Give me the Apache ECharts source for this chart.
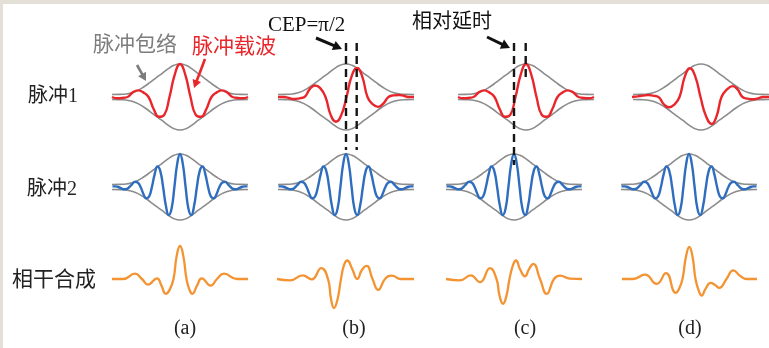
<!DOCTYPE html>
<html><head><meta charset="utf-8">
<script src="https://cdn.jsdelivr.net/npm/echarts/dist/echarts.min.js"></script>
<style>html,body{margin:0;padding:0;background:#fff}#c{width:769px;height:348px}</style>
</head><body><div id="c"></div>
<script>
// ---------- data ----------
const columnLabels = ['(a)', '(b)', '(c)', '(d)'];
const rowLabels = ['脉冲1', '脉冲2', '相干合成'];

// Gaussian-like envelope (time, amplitude)
const envT = [-68,-60,-54,-48,-42,-36,-30,-24,-18,-12,-6,0,6,12,18,24,30,36,42,48,54,60,68];
const envV = [0.075,0.08,0.09,0.13,0.2,0.31,0.44,0.58,0.71,0.85,0.96,1,0.96,0.85,0.71,0.58,0.44,0.31,0.2,0.13,0.09,0.08,0.075];
// envelope delay of pulse 1 in each column
const envDelay = [0, 0, 12, 12];

// pulse 1 (red carrier)
const redT_a = [-68,-63,-57.75,-52.5,-47.25,-42,-36.75,-31.5,-26.25,-21,-15.75,-10.5,-5.25,0,5.25,10.5,15.75,21,26.25,31.5,36.75,42,47.25,52.5,57.75,63,68];
const redV_a = [0,-0.04,-0.03,0,0.14,0.2,0.14,0,-0.37,-0.6,-0.54,0,0.68,1,0.68,0,-0.54,-0.6,-0.37,0,0.14,0.2,0.14,0,-0.03,-0.04,0];
const redT_b = [-68,-62.5,-57.25,-52,-46.75,-41.5,-36.25,-31,-25.75,-20.5,-15.25,-10,-4.75,0.5,5.75,11,16.25,21.5,26.75,32,37.25,42.5,47.75,53,58.25,63.5,68];
const redV_b = [0,0,-0.03,-0.06,-0.04,0,0.24,0.35,0.27,0,-0.55,-0.75,-0.55,0,0.64,0.88,0.62,0,-0.22,-0.3,-0.2,0,0.05,0.06,0.03,0,0];
const redT_c = [-56,-51,-45.75,-40.5,-35.25,-30,-24.75,-19.5,-14.25,-9,-3.75,1.5,6.75,12,17.25,22.5,27.75,33,38.25,43.5,48.75,54,59.25,64.5,69.75,75,80];
const redV_c = [0,-0.04,-0.03,0,0.14,0.2,0.14,0,-0.37,-0.6,-0.54,0,0.68,1,0.68,0,-0.54,-0.6,-0.37,0,0.14,0.2,0.14,0,-0.03,-0.04,0];
const redT_d = [-57,-51.5,-46.5,-41,-36,-30.5,-25.2,-20,-14.7,-9.5,-4.2,1,6.3,11.5,17,22.7,27.6,32.5,38,43.7,48.6,53.5,58.7,64,69,74,80];
const redV_d = [0,0.02,0.04,0.06,0.04,0,-0.22,-0.31,-0.23,0,0.62,0.87,0.62,0,-0.58,-0.82,-0.58,0,0.23,0.33,0.23,0,-0.05,-0.07,-0.04,0,0];

// pulse 2 (blue carrier), same in every column
const blueT = [-67.5,-64.7,-61.9,-59.1,-56.25,-53.4,-50.6,-47.8,-45,-42.2,-39.4,-36.6,-33.75,-30.9,-28.1,-25.3,-22.5,-19.7,-16.9,-14.1,-11.25,-8.4,-5.6,-2.8,0,2.8,5.6,8.4,11.25,14.1,16.9,19.7,22.5,25.3,28.1,30.9,33.75,36.6,39.4,42.2,45,47.8,50.6,53.4,56.25,59.1,61.9,64.7,67.5];
const blueV = [0.02,0.02,0,-0.035,-0.07,-0.06,0,0.09,0.16,0.13,0,-0.21,-0.34,-0.29,0,0.39,0.62,0.48,0,-0.57,-0.85,-0.65,0,0.7,1,0.7,0,-0.65,-0.85,-0.57,0,0.48,0.62,0.39,0,-0.29,-0.34,-0.21,0,0.13,0.16,0.09,0,-0.06,-0.07,-0.035,0,0.02,0.02];

// coherent synthesis (orange)
const orT_a = [-68,-57,-45,-38,-32,-23,-18.5,-14.3,-10.4,-6.5,-3.3,0,3.3,6.5,9.5,12.3,17,21.7,30.7,37,44,57,68];
const orV_a = [0,0,0.16,0,-0.17,0.02,-0.2,-0.45,-0.33,0,0.7,1,0.7,0,-0.33,-0.45,-0.2,0.02,-0.2,0,0.16,0,0];
const orT_b = [-69,-56,-43.3,-34.3,-24.7,-18,-15,-12,-8.5,-5,-2,1.3,6,11.3,16,20.7,26.5,32.3,39,45.7,55,68];
const orV_b = [0,-0.04,0.11,-0.01,0.33,0,-0.6,-0.88,-0.62,0,0.42,0.56,0.32,0,0.28,0.4,0,-0.33,0,0.1,0,0];
const orT_c = [-68,-54,-43.3,-34,-24,-17.5,-14.5,-11,-7.5,-4.5,-1,2,6,11,15,19.3,26,32.7,40,46,56,68];
const orV_c = [0,-0.04,0.11,-0.1,0.33,0,-0.5,-0.75,-0.5,0,0.42,0.56,0.3,0.08,0.3,0.46,0,-0.45,0,0.1,0.01,0];
const orT_d = [-67,-56,-44,-32.3,-23,-13.3,-10,-6.5,-3,0.3,3.5,6.5,9.7,12.7,16.5,21.7,26,30.3,37.5,44.3,51,57.7,68];
const orV_d = [0,0,0.13,-0.15,0.18,-0.42,-0.3,0,0.68,0.97,0.68,0,-0.35,-0.5,-0.3,-0.12,-0.18,-0.27,0,0.26,0.1,0,0];

// annotation positions (time values on the column axes)
const cepLinesT = [0, 10.7];     // column (b)
const delayLinesT = [0, 11.7];   // column (c)

// ---------- layout ----------
const colCenter = [180, 346, 514, 689];
const rowBase = [97, 187, 279];
const ampPx = 33, yMax = 1.2, halfX = 80;
const RED = '#e8262b', BLUE = '#2f6dbf', ORANGE = '#f39332', GRAY = '#8c8c8c';
const CJK = '"Liberation Serif","Noto Sans CJK SC",serif';

const redSets = [[redT_a, redV_a], [redT_b, redV_b], [redT_c, redV_c], [redT_d, redV_d]];
const orSets = [[orT_a, orV_a], [orT_b, orV_b], [orT_c, orV_c], [orT_d, orV_d]];

function zip(t, v, shift, sign) {
  return t.map((x, i) => [x + (shift || 0), (sign || 1) * v[i]]);
}

const grids = [], xAxes = [], yAxes = [], series = [];
for (let r = 0; r < 3; r++) {
  for (let c = 0; c < 4; c++) {
    const k = r * 4 + c;
    grids.push({left: colCenter[c] - halfX, width: 2 * halfX, top: rowBase[r] - yMax * ampPx, height: 2 * yMax * ampPx, containLabel: false});
    xAxes.push({type: 'value', gridIndex: k, min: -halfX, max: halfX, show: false});
    yAxes.push({type: 'value', gridIndex: k, min: -yMax, max: yMax, show: false});
    const base = {type: 'line', xAxisIndex: k, yAxisIndex: k, smooth: true, symbol: 'none', showSymbol: false, clip: false, silent: true, animation: false};
    if (r < 2) {
      const d = r === 0 ? envDelay[c] : 0;
      series.push(Object.assign({}, base, {data: zip(envT, envV, d, 1), lineStyle: {color: GRAY, width: 1.6}, z: 2}));
      series.push(Object.assign({}, base, {data: zip(envT, envV, d, -1), lineStyle: {color: GRAY, width: 1.6}, z: 2}));
    }
    if (r === 0) {
      series.push(Object.assign({}, base, {data: zip(redSets[c][0], redSets[c][1]), lineStyle: {color: RED, width: 2.4}, z: 3}));
    } else if (r === 1) {
      series.push(Object.assign({}, base, {data: zip(blueT, blueV), lineStyle: {color: BLUE, width: 2.4}, z: 3}));
    } else {
      series.push(Object.assign({}, base, {data: zip(orSets[c][0], orSets[c][1]), lineStyle: {color: ORANGE, width: 2.3}, z: 3}));
    }
  }
}

const chart = echarts.init(document.getElementById('c'), null, {renderer: 'canvas'});
chart.setOption({animation: false, backgroundColor: '#fff', grid: grids, xAxis: xAxes, yAxis: yAxes, series: series});

// ---------- annotations ----------
function px(col, t) { return chart.convertToPixel({xAxisIndex: col}, t); }
function arrow(x1, y1, x2, y2, color, w, hl, hw) {
  const dx = x2 - x1, dy = y2 - y1, L = Math.hypot(dx, dy), ux = dx / L, uy = dy / L;
  const bx = x2 - ux * hl, by = y2 - uy * hl, nx = -uy, ny = ux;
  return [
    {type: 'line', z: 50, shape: {x1: x1, y1: y1, x2: bx + ux * 1, y2: by + uy * 1}, style: {stroke: color, lineWidth: w}},
    {type: 'polygon', z: 50, shape: {points: [[x2, y2], [bx + nx * hw, by + ny * hw], [bx - nx * hw, by - ny * hw]]}, style: {fill: color}}
  ];
}
function txt(s, x, y, size, color, align, fam) {
  return {type: 'text', z: 50, style: {text: s, x: x, y: y, font: size + 'px ' + (fam || CJK), fill: color, align: align || 'left', verticalAlign: 'middle'}};
}
function dash(x, y1, y2) {
  return {type: 'line', z: 60, shape: {x1: x, y1: y1, x2: x, y2: y2}, style: {stroke: '#151515', lineWidth: 2.4, lineDash: [8, 5]}};
}

const g = [
  {type: 'rect', z: 100, shape: {x: 0, y: 0, width: 769, height: 4}, style: {fill: '#e4dfd7'}},
  {type: 'rect', z: 100, shape: {x: 0, y: 0, width: 3, height: 348}, style: {fill: '#e4dfd7'}},
  txt(rowLabels[0], 28, rowBase[0], 20, '#222'),
  txt(rowLabels[1], 27, rowBase[1] + 3, 20, '#222'),
  txt(rowLabels[2], 12, rowBase[2] + 1, 21, '#222'),
  txt('脉冲包络', 93, 45, 21, '#7d7d7d'),
  txt('脉冲载波', 192, 47, 21, RED),
  txt('CEP=π/2', 268, 25, 21, '#111', 'left', '"Liberation Serif",serif'),
  txt('相对延时', 412, 23, 20, '#111')
];
const labelX = [185, 354, 525, 690];
for (let c = 0; c < 4; c++) g.push(txt(columnLabels[c], labelX[c], 329, 20, '#222', 'center', '"Liberation Serif",serif'));
g.push.apply(g, arrow(137, 65, 146, 81, '#7d7d7d', 2.6, 8, 4.5));
g.push.apply(g, arrow(205, 59, 194, 88, RED, 2.6, 8, 4.5));
g.push.apply(g, arrow(316, 38, 342, 49, '#111', 3, 9, 5));
g.push.apply(g, arrow(487, 37, 510, 48, '#111', 3, 9, 5));
g.push(dash(px(1, cepLinesT[0]), 43, 150));
g.push(dash(px(1, cepLinesT[1]), 43, 150));
g.push(dash(px(2, delayLinesT[0]), 43, 165));
g.push(dash(px(2, delayLinesT[1]), 43, 82));
chart.setOption({graphic: g});
</script></body></html>
